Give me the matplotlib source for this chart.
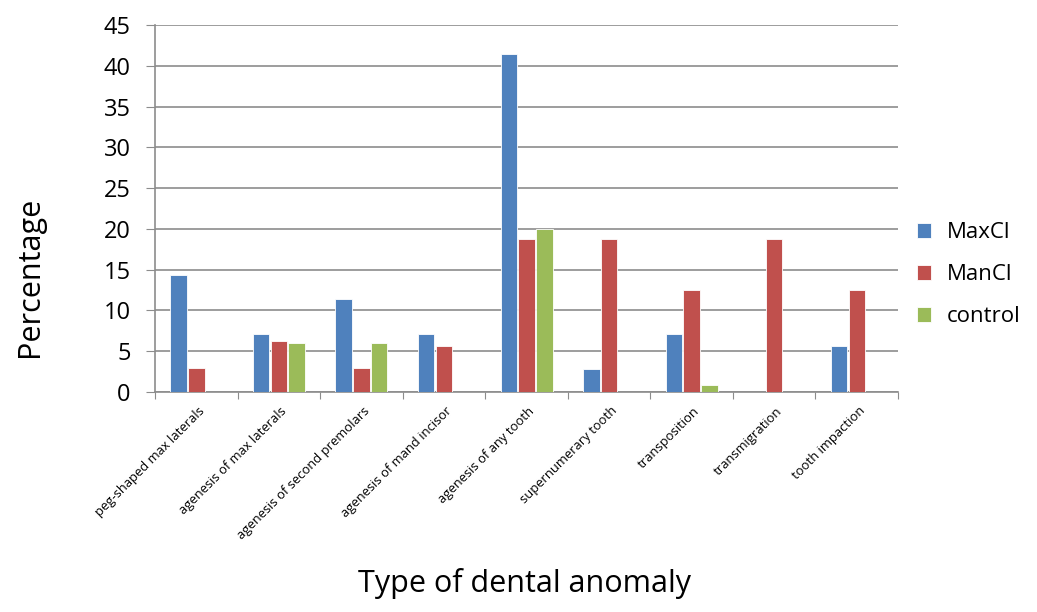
import numpy as np
import matplotlib
matplotlib.use('Agg')
from matplotlib import pyplot as plt

# dental anomaly frequencies per group (%)
anomalies = [
    'peg-shaped max laterals',
    'agenesis of max laterals',
    'agenesis of second premolars',
    'agenesis of mand incisor',
    'agenesis of any tooth',
    'supernumerary tooth',
    'transposition',
    'transmigration',
    'tooth impaction',
]
max_cl = [14.3, 7.1, 11.4, 7.1, 41.4, 2.8, 7.1, 0, 5.7]
man_cl = [3.0, 6.25, 3.0, 5.7, 18.8, 18.8, 12.5, 18.8, 12.5]
control = [0, 6.0, 6.0, 0, 20.0, 0, 0.8, 0, 0]

series_names = ['MaxCl', 'ManCl', 'control']
colors = ['#4F81BD', '#C0504D', '#9BBB59']

plt.rcParams['font.family'] = ['Open Sans', 'DejaVu Sans']

fig = plt.figure(figsize=(10.37, 6.12), dpi=100)
ax = fig.add_axes([0.1495, 0.3595, 0.7165, 0.5995])

x = np.arange(len(anomalies))
width = 0.2
for i, (vals, name, col) in enumerate(zip([max_cl, man_cl, control], series_names, colors)):
    ax.bar(x + (i - 1) * 0.215, vals, width, color=col, label=name,
           edgecolor='white', linewidth=0.6, zorder=3)

ax.set_xlim(-0.5, len(anomalies) - 0.5)
ax.set_ylim(0, 45)
ax.set_yticks(range(0, 46, 5))
ax.yaxis.grid(True, color='#8c8c8c', linewidth=1.2, zorder=0)
ax.set_axisbelow(True)

for s in ['top', 'right']:
    ax.spines[s].set_visible(False)
for s in ['left', 'bottom']:
    ax.spines[s].set_color('#8c8c8c')
    ax.spines[s].set_linewidth(1.2)

ax.tick_params(axis='y', labelsize=17, length=6.5, color='#8c8c8c', pad=11)
# category ticks sit between the groups, labels under the group centres
ax.set_xticks(np.arange(-0.5, len(anomalies), 1.0))
ax.set_xticklabels([])
ax.tick_params(axis='x', length=5, color='#8c8c8c')
for xi, name in zip(x, anomalies):
    ax.annotate(name, xy=(xi, 0), xycoords=('data', 'axes fraction'),
                xytext=(1, -9), textcoords='offset points',
                rotation=45, ha='right', va='top', rotation_mode='anchor',
                fontsize=9.4)

fig.text(0.029, 1 - 277 / 612, 'Percentage', fontsize=22, rotation=90,
         ha='center', va='center')
fig.text(0.506, 0.032, 'Type of dental anomaly', fontsize=22, ha='center')

leg = ax.legend(loc='center left', bbox_to_anchor=(1.01, 0.32), frameon=False,
                fontsize=16, handlelength=0.65, handleheight=0.65, borderpad=0,
                labelspacing=0.95, handletextpad=0.7)

fig.savefig('out.png', dpi=100)
